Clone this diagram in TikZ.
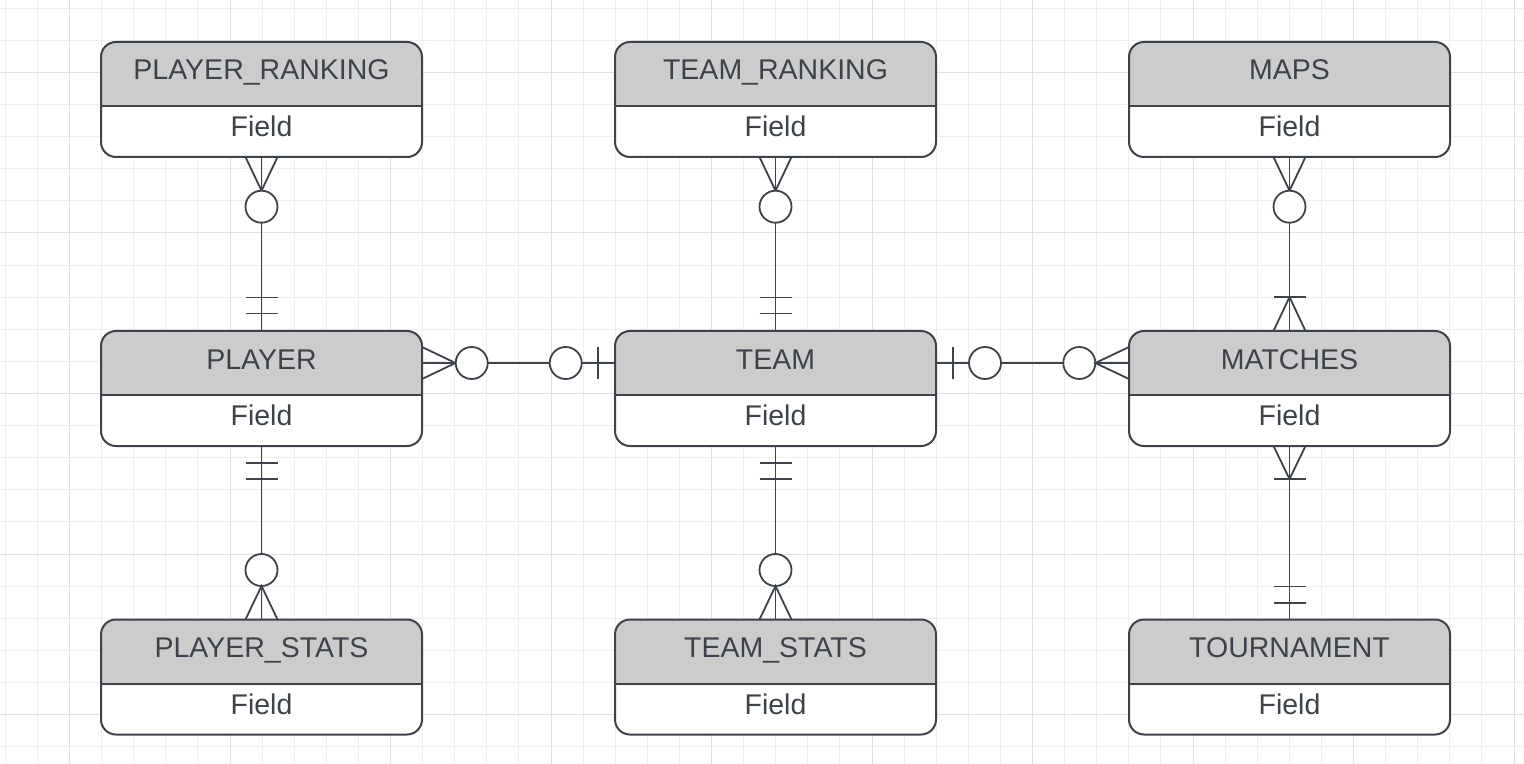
\documentclass[tikz,border=0pt]{standalone}
\usepackage{fontspec}
\setmainfont{Liberation Sans}
\usetikzlibrary{calc}
\definecolor{ink}{HTML}{3D434B}
\definecolor{hdr}{HTML}{CCCCCC}
\definecolor{gridminor}{HTML}{EEEEEE}
\definecolor{gridmajor}{HTML}{E0E0E0}
\begin{document}
\begin{tikzpicture}[x=0.5pt,y=-0.5pt,
  entity/.style={draw=ink, line width=1pt, fill=white, rounded corners=7.5pt,
    minimum width=160.5pt, minimum height=57.5pt, inner sep=0pt, outer sep=0pt,
    path picture={
      \fill[hdr, sharp corners] (path picture bounding box.north west) rectangle ([yshift=-32pt]path picture bounding box.north east);
      \draw[ink, line width=1pt, sharp corners] ([yshift=-32pt]path picture bounding box.north west) -- ([yshift=-32pt]path picture bounding box.north east);
    }},
  etitle/.style={anchor=base, inner sep=0pt, text=ink, font=\fontsize{14.25pt}{16pt}\selectfont},
  efield/.style={anchor=base, inner sep=0pt, text=ink, font=\fontsize{14.25pt}{16pt}\selectfont},
  conn/.style={draw=ink, line width=0.9pt},
  zero/.style={circle, draw=ink, fill=white, line width=0.9pt, minimum size=16pt, inner sep=0pt, outer sep=0pt}
]
\useasboundingbox (0,0) rectangle (1524,764);
\fill[white] (0,0) rectangle (1524,764);
% grid
\foreach \i in {0,...,47} {
  \draw[gridminor, line width=0.5pt] ({5.3+32.1*\i},0) -- ({5.3+32.1*\i},764);
}
\foreach \j in {0,...,23} {
  \draw[gridminor, line width=0.5pt] (0,{8.3+32.1*\j}) -- (1524,{8.3+32.1*\j});
}
\foreach \i in {0,...,9} {
  \draw[gridmajor, line width=0.5pt] ({69.5+160.5*\i},0) -- ({69.5+160.5*\i},764);
}
\foreach \j in {0,...,4} {
  \draw[gridmajor, line width=0.5pt] (0,{72.5+160.5*\j}) -- (1524,{72.5+160.5*\j});
}

% entities
\node[entity] (pr) at (261.5,99.5) {};
\node[entity] (tr) at (775.5,99.5) {};
\node[entity] (mp) at (1289.5,99.5) {};
\node[entity] (p)  at (261.5,388.5) {};
\node[entity] (t)  at (775.5,388.5) {};
\node[entity] (m)  at (1289.5,388.5) {};
\node[entity] (ps) at (261.5,677) {};
\node[entity] (ts) at (775.5,677) {};
\node[entity] (to) at (1289.5,677) {};

\foreach \n/\txt in {pr/PLAYER\_RANKING, tr/TEAM\_RANKING, mp/MAPS, p/PLAYER, t/TEAM, m/MATCHES, ps/PLAYER\_STATS, ts/TEAM\_STATS, to/TOURNAMENT} {
  \node[etitle] (\n-t) at ($(\n.north)+(0,38)$) {\txt};
  \node[efield] (\n-f) at ($(\n.north)+(0,94.7)$) {Field};
}

% PLAYER_RANKING -- PLAYER
\draw[conn] (pr.south) -- (p.north);
\draw[conn] ($(pr.south)+(-16,0)$) -- ($(pr.south)+(0,33.7)$) -- ($(pr.south)+(16,0)$);
\node[zero] (z1) at ($(pr.south)+(0,49.7)$) {};
\draw[conn] ($(p.north)+(-16,-33.5)$) -- ($(p.north)+(16,-33.5)$);
\draw[conn] ($(p.north)+(-16,-17.5)$) -- ($(p.north)+(16,-17.5)$);

% TEAM_RANKING -- TEAM
\draw[conn] (tr.south) -- (t.north);
\draw[conn] ($(tr.south)+(-16,0)$) -- ($(tr.south)+(0,33.7)$) -- ($(tr.south)+(16,0)$);
\node[zero] (z2) at ($(tr.south)+(0,49.7)$) {};
\draw[conn] ($(t.north)+(-16,-33.5)$) -- ($(t.north)+(16,-33.5)$);
\draw[conn] ($(t.north)+(-16,-17.5)$) -- ($(t.north)+(16,-17.5)$);

% MAPS -- MATCHES
\draw[conn] (mp.south) -- (m.north);
\draw[conn] ($(mp.south)+(-16,0)$) -- ($(mp.south)+(0,33.7)$) -- ($(mp.south)+(16,0)$);
\node[zero] (z3) at ($(mp.south)+(0,49.7)$) {};
\draw[conn] ($(m.north)+(-16,-34)$) -- ($(m.north)+(16,-34)$);
\draw[conn] ($(m.north)+(-16,0)$) -- ($(m.north)+(0,-34)$) -- ($(m.north)+(16,0)$);

% PLAYER -- PLAYER_STATS
\draw[conn] (p.south) -- (ps.north);
\draw[conn] ($(p.south)+(-16,17)$) -- ($(p.south)+(16,17)$);
\draw[conn] ($(p.south)+(-16,33)$) -- ($(p.south)+(16,33)$);
\node[zero] (z4) at ($(ps.north)+(0,-49.5)$) {};
\draw[conn] ($(ps.north)+(-16,0)$) -- ($(ps.north)+(0,-33.5)$) -- ($(ps.north)+(16,0)$);

% TEAM -- TEAM_STATS
\draw[conn] (t.south) -- (ts.north);
\draw[conn] ($(t.south)+(-16,17)$) -- ($(t.south)+(16,17)$);
\draw[conn] ($(t.south)+(-16,33)$) -- ($(t.south)+(16,33)$);
\node[zero] (z5) at ($(ts.north)+(0,-49.5)$) {};
\draw[conn] ($(ts.north)+(-16,0)$) -- ($(ts.north)+(0,-33.5)$) -- ($(ts.north)+(16,0)$);

% MATCHES -- TOURNAMENT
\draw[conn] (m.south) -- (to.north);
\draw[conn] ($(m.south)+(-16,0)$) -- ($(m.south)+(0,33)$) -- ($(m.south)+(16,0)$);
\draw[conn] ($(m.south)+(-16,33)$) -- ($(m.south)+(16,33)$);
\draw[conn] ($(to.north)+(-16,-33)$) -- ($(to.north)+(16,-33)$);
\draw[conn] ($(to.north)+(-16,-16.5)$) -- ($(to.north)+(16,-16.5)$);

% PLAYER -- TEAM
\draw[conn] ($(p.north east)+(0,32)$) -- ($(t.north west)+(0,32)$);
\draw[conn] ($(p.north east)+(0,16)$) -- ($(p.north east)+(33.5,32)$) -- ($(p.north east)+(0,48)$);
\node[zero] (z6) at ($(p.north east)+(49.7,32)$) {};
\node[zero] (z7) at ($(t.north west)+(-49.3,32)$) {};
\draw[conn] ($(t.north west)+(-16.7,16)$) -- ($(t.north west)+(-16.7,48)$);

% TEAM -- MATCHES
\draw[conn] ($(t.north east)+(0,32)$) -- ($(m.north west)+(0,32)$);
\draw[conn] ($(t.north east)+(16.7,16)$) -- ($(t.north east)+(16.7,48)$);
\node[zero] (z8) at ($(t.north east)+(49,32)$) {};
\node[zero] (z9) at ($(m.north west)+(-49.7,32)$) {};
\draw[conn] ($(m.north west)+(0,16)$) -- ($(m.north west)+(-33.7,32)$) -- ($(m.north west)+(0,48)$);
\end{tikzpicture}
\end{document}
